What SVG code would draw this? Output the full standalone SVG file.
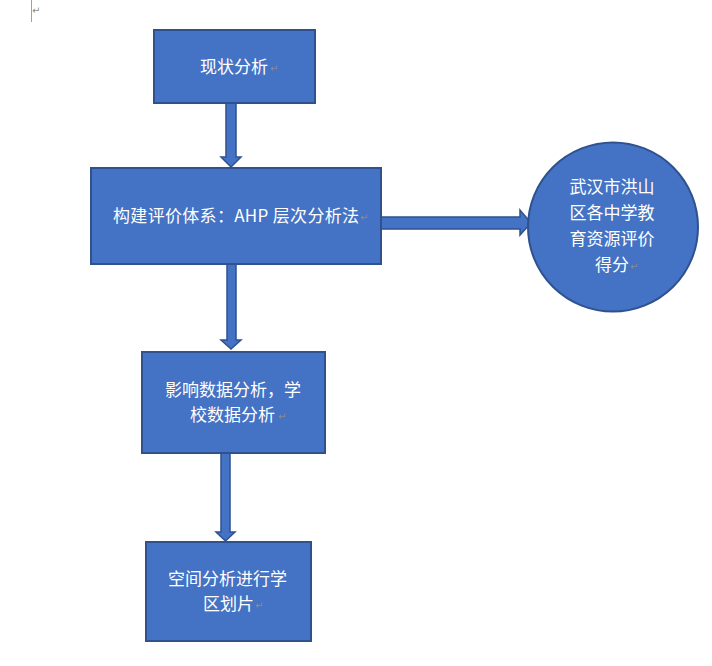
<svg xmlns="http://www.w3.org/2000/svg" width="712" height="666" viewBox="0 0 712 666">
<style>
.box{fill:#4472C4;stroke:#2F528F;stroke-width:2}
.arr{fill:#4472C4;stroke:#2F528F;stroke-width:1.5;stroke-linejoin:miter}
.t{font-family:"Noto Sans CJK SC","Microsoft YaHei",sans-serif;font-size:17px;fill:#FFFFFF}
.pm{font-family:"DejaVu Sans",sans-serif;font-size:10px;fill:#8C8C8C}
</style>
<rect width="712" height="666" fill="#FFFFFF"/>
<line x1="31.5" y1="0" x2="31.5" y2="22" stroke="#A0A0A0" stroke-width="1"/>
<text class="pm" x="32" y="14">↵</text>
<g id="connectors">
<polygon class="arr" points="226,103 236,103 236,157 241,157 231,167 221,157 226,157"/>
<polygon class="arr" points="378,217 520,217 520,210 531,223 520,235 520,229 378,229"/>
<polygon class="arr" points="227,264 236,264 236,340 241,340 231,349 221,340 227,340"/>
<polygon class="arr" points="221,453 230,453 230,532 235,532 225.5,541 216,532 221,532"/>
</g>
<g id="n1">
<rect class="box" x="154" y="30" width="161" height="73"/>
<text class="t" x="200" y="73">现状分析</text>
<text class="pm" x="270" y="72">↵</text>
</g>
<g id="n2">
<rect class="box" x="91" y="168" width="290" height="96"/>
<text class="t" x="113" y="222" textLength="246" lengthAdjust="spacing">构建评价体系：AHP 层次分析法</text>
<text class="pm" x="360" y="221">↵</text>
</g>
<g id="n3">
<ellipse class="box" cx="613" cy="227" rx="85" ry="84.5"/>
<text class="t" x="612" y="193" text-anchor="middle">武汉市洪山</text>
<text class="t" x="612" y="219" text-anchor="middle">区各中学教</text>
<text class="t" x="612" y="245" text-anchor="middle">育资源评价</text>
<text class="t" x="612" y="271" text-anchor="middle">得分</text>
<text class="pm" x="630" y="270">↵</text>
</g>
<g id="n4">
<rect class="box" x="142" y="352" width="183" height="101"/>
<text class="t" x="165" y="396">影响数据分析，学</text>
<text class="t" x="190" y="421">校数据分析</text>
<text class="pm" x="278" y="420">↵</text>
</g>
<g id="n5">
<rect class="box" x="146" y="542" width="165" height="99"/>
<text class="t" x="168" y="585">空间分析进行学</text>
<text class="t" x="203" y="610">区划片</text>
<text class="pm" x="255" y="609">↵</text>
</g>
</svg>
